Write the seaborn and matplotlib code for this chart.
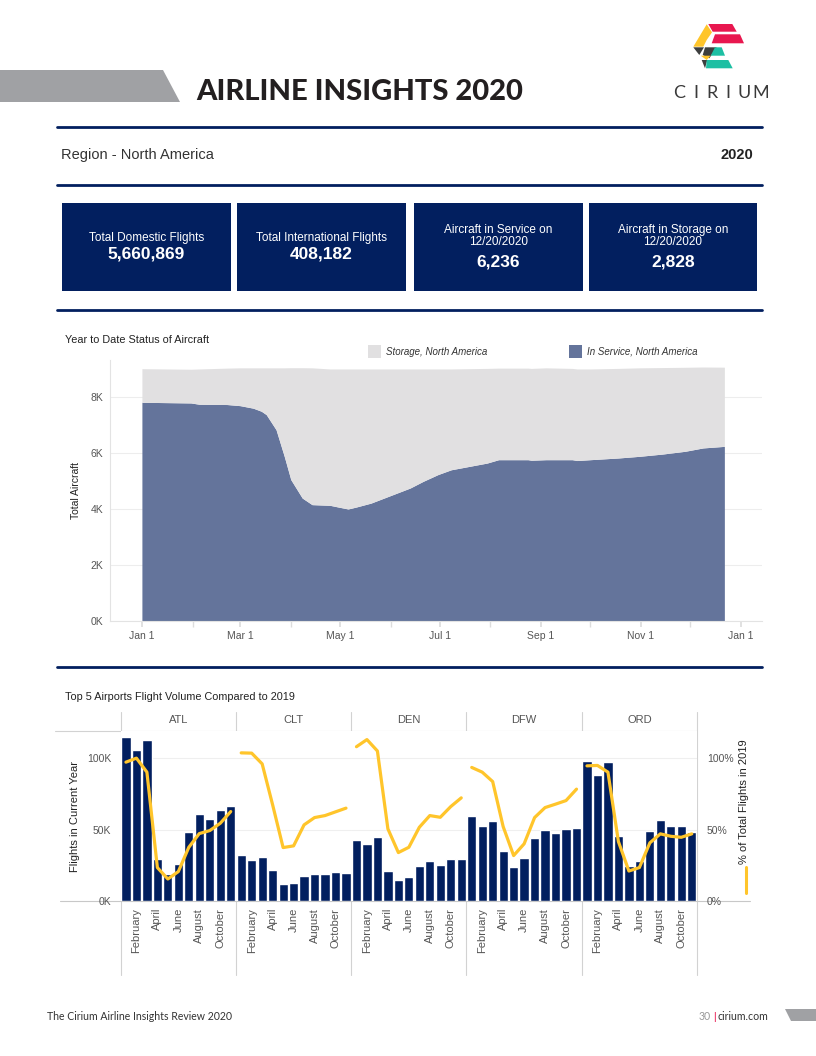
import numpy as np
import pandas as pd
import seaborn as sns
from matplotlib import pyplot as plt
from matplotlib.patches import Polygon, Rectangle

# ---- year to date status of aircraft, North America ----
status_dates = ["2020-01-01", "2020-01-31", "2020-02-05", "2020-02-22", "2020-03-01",
                "2020-03-09", "2020-03-14", "2020-03-17", "2020-03-23", "2020-03-28",
                "2020-04-01", "2020-04-08", "2020-04-14", "2020-04-25", "2020-04-30",
                "2020-05-06", "2020-05-11", "2020-05-20", "2020-05-28", "2020-06-05",
                "2020-06-13", "2020-06-21", "2020-06-30", "2020-07-08", "2020-07-19",
                "2020-07-30", "2020-08-06", "2020-08-24", "2020-08-26", "2020-09-04",
                "2020-09-20", "2020-09-23", "2020-10-01", "2020-10-18", "2020-10-31",
                "2020-11-14", "2020-11-28", "2020-12-09", "2020-12-22"]
in_service = [7810, 7786, 7740, 7730, 7690, 7600, 7490, 7370, 6830, 5880,
              5050, 4390, 4155, 4130, 4070, 4000, 4070, 4210, 4390, 4570,
              4750, 4990, 5230, 5400, 5520, 5640, 5760, 5760, 5740, 5760,
              5760, 5730, 5760, 5820, 5880, 5960, 6060, 6180, 6236]
storage = [1200, 1204, 1260, 1300, 1350, 1440, 1550, 1670, 2210, 3160,
           3995, 4655, 4885, 4870, 4930, 5000, 4930, 4790, 4610, 4430,
           4250, 4010, 3770, 3600, 3490, 3380, 3270, 3270, 3280, 3280,
           3260, 3270, 3240, 3200, 3160, 3090, 3000, 2890, 2828]

# ---- top 5 airports, flights per month (Jan-Nov) and % of 2019 ----
months = ["January", "February", "March", "April", "May", "June",
          "July", "August", "September", "October", "November"]
airports = ["ATL", "CLT", "DEN", "DFW", "ORD"]
flights_atl = [114500, 105800, 112900, 29400, 19200, 25900, 48600, 61200, 57500, 63800, 66800]
flights_clt = [32200, 29000, 30800, 21700, 11900, 12600, 17500, 18900, 18900, 20300, 19600]
flights_den = [42800, 40000, 44900, 21000, 14700, 16800, 24500, 28300, 25200, 29400, 29400]
flights_dfw = [59600, 52600, 56100, 35000, 23800, 30100, 44200, 49800, 47700, 50500, 51200]
flights_ord = [97700, 87900, 97400, 45600, 24500, 28000, 49300, 56800, 52600, 52600, 48400]
pct_atl = [0.972, 1.000, 0.902, 0.234, 0.154, 0.206, 0.376, 0.472, 0.493, 0.544, 0.626]
pct_clt = [1.037, 1.035, 0.960, 0.673, 0.374, 0.386, 0.533, 0.584, 0.598, 0.624, 0.650]
pct_den = [1.080, 1.130, 1.050, 0.505, 0.339, 0.376, 0.516, 0.598, 0.586, 0.661, 0.722]
pct_dfw = [0.935, 0.902, 0.836, 0.521, 0.318, 0.400, 0.584, 0.654, 0.678, 0.703, 0.783]
pct_ord = [0.946, 0.949, 0.902, 0.416, 0.210, 0.234, 0.407, 0.470, 0.453, 0.446, 0.470]

# ---- KPI tiles ----
kpi_labels = ["Total Domestic Flights", "Total International Flights",
              "Aircraft in Service on\n12/20/2020", "Aircraft in Storage on\n12/20/2020"]
kpi_values = ["5,660,869", "408,182", "6,236", "2,828"]

NAVY = "#021F5F"
GOLD = "#FFC52B"
SERVICE = "#64749B"
STORAGE = "#E1E0E1"
W, H = 816, 1056

sns.set_theme(style="white")
plt.rcParams["font.family"] = ["Liberation Sans", "DejaVu Sans"]


def box(x0, y0, x1, y1):
    # pixel box on the page -> figure fraction
    return [x0 / W, 1 - y1 / H, (x1 - x0) / W, (y1 - y0) / H]


fig = plt.figure(figsize=(W / 100, H / 100), dpi=100)
bg = fig.add_axes([0, 0, 1, 1])
bg.set_xlim(0, W)
bg.set_ylim(H, 0)
bg.axis("off")

# ---- page header ----
bg.add_patch(Polygon([(0, 70), (163, 70), (180, 102), (0, 102)], color="#A0A1A4", lw=0))
bg.text(196, 92, "AIRLINE INSIGHTS 2020", fontsize=21, fontweight="black",
        family=["Lato", "DejaVu Sans"], color="#231F20", va="center", ha="left")

logo = [
    ("#E8174F", [(708.3, 24), (732.3, 24), (736.7, 31.7), (712.7, 31.7)]),
    ("#FFC52B", [(706.7, 24.3), (712, 32.3), (706.7, 40), (703.3, 46.7), (693.3, 46.7)]),
    ("#E8174F", [(715, 34.3), (740, 34.3), (744, 43.3), (711.7, 43.3)]),
    ("#3D3F3E", [(693.3, 47.3), (704, 47.3), (699.3, 55)]),
    ("#3D3F3E", [(705, 47.3), (716.7, 47.3), (709.3, 58.3), (702.7, 55)]),
    ("#1DBFA3", [(715, 47.3), (721.7, 47.3), (725, 55.7), (710.7, 55.7)]),
    ("#FFC52B", [(700.7, 55.7), (710.7, 55.7), (706.7, 60)]),
    ("#3D3F3E", [(701.7, 60), (707.3, 60), (705, 68.3)]),
    ("#1DBFA3", [(706.7, 60), (728.3, 60), (732.7, 68.3), (706, 68.3)]),
]
for c, pts in logo:
    bg.add_patch(Polygon(pts, color=c, lw=0))
for ch, cx in zip("CIRIUM", [679, 696, 712, 728, 744, 761]):
    bg.text(cx, 93, ch, fontsize=13, fontweight="normal", family=["Lato", "DejaVu Sans"],
            color="#3A3A3A", ha="center", va="center")

for yy in [127, 185, 310, 667]:
    bg.plot([57, 762], [yy, yy], color=NAVY, lw=2)

bg.text(61, 155, "Region - North America", fontsize=10.5, color="#333333", va="center")
bg.text(753, 155, "2020", fontsize=10.5, fontweight="bold", color="#222222",
        va="center", ha="right")

# ---- KPI tiles ----
tiles = [(62, 231), (237, 406), (414, 583), (589, 757)]
for (x0, x1), lab, val in zip(tiles, kpi_labels, kpi_values):
    bg.add_patch(Rectangle((x0, 203), x1 - x0, 88, color=NAVY, lw=0))
    cx = (x0 + x1) / 2
    if "\n" in lab:
        bg.text(cx, 236, lab, fontsize=8.5, color="white", ha="center", va="center",
                linespacing=1.1)
        bg.text(cx, 262, val, fontsize=12.5, fontweight="bold", color="white",
                ha="center", va="center")
    else:
        bg.text(cx, 237.5, lab, fontsize=8.5, color="white", ha="center", va="center")
        bg.text(cx, 254, val, fontsize=12.5, fontweight="bold", color="white",
                ha="center", va="center")

# ---- chart 1: year to date status of aircraft ----
bg.text(65, 340, "Year to Date Status of Aircraft", fontsize=7.8, color="#222222", va="center")
bg.add_patch(Rectangle((368, 344.5), 13, 13, color=STORAGE, lw=0))
bg.text(386, 352, "Storage, North America", fontsize=7, style="italic", color="#333333",
        va="center")
bg.add_patch(Rectangle((569, 344.5), 13, 13, color=SERVICE, lw=0))
bg.text(587, 352, "In Service, North America", fontsize=7, style="italic", color="#333333",
        va="center")

ax1 = fig.add_axes(box(110, 360, 762, 621))
day = (pd.to_datetime(status_dates) - pd.Timestamp("2020-01-01")).days.values
top = np.add(in_service, storage)
ax1.fill_between(day, 0, in_service, color=SERVICE, lw=0, zorder=2)
ax1.fill_between(day, in_service, top, color=STORAGE, lw=0, zorder=2)
ax1.set_xlim(-19.5, 379)
ax1.set_ylim(0, 9320)
month_starts = (pd.date_range("2020-01-01", "2021-01-01", freq="MS")
                - pd.Timestamp("2020-01-01")).days.values
ax1.set_xticks(month_starts[::2])
ax1.set_xticklabels(["Jan 1", "Mar 1", "May 1", "Jul 1", "Sep 1", "Nov 1", "Jan 1"])
ax1.set_xticks(month_starts[1::2], minor=True)
ax1.tick_params(axis="x", which="both", length=4, color="#DDDDDD", labelsize=7.5,
                labelcolor="#555555", pad=3, bottom=True)
ax1.set_yticks([0, 2000, 4000, 6000, 8000])
ax1.set_yticklabels(["0K", "2K", "4K", "6K", "8K"])
ax1.tick_params(axis="y", length=0, labelsize=7.5, labelcolor="#555555", pad=5)
ax1.yaxis.grid(True, color="#EDEDED", lw=0.8)
ax1.set_axisbelow(True)
for s in ["top", "right"]:
    ax1.spines[s].set_visible(False)
for s in ["left", "bottom"]:
    ax1.spines[s].set_color("#E3E3E3")
    ax1.spines[s].set_linewidth(0.8)
ax1.set_ylabel("Total Aircraft", fontsize=7.5, color="#222222", labelpad=7)
ax1.patch.set_alpha(0)

# ---- chart 2: top 5 airports ----
bg.text(65, 697, "Top 5 Airports Flight Volume Compared to 2019", fontsize=7.8,
        color="#222222", va="center")
flights = [flights_atl, flights_clt, flights_den, flights_dfw, flights_ord]
pcts = [pct_atl, pct_clt, pct_den, pct_dfw, pct_ord]
df = pd.DataFrame({
    "airport": np.repeat(airports, len(months)),
    "month": months * len(airports),
    "flights": np.concatenate(flights),
    "pct": np.concatenate(pcts),
})

px0, pw = 120.7, 115.26
for i, ap in enumerate(airports):
    x0 = px0 + i * pw
    ax = fig.add_axes(box(x0, 731, x0 + pw, 901))
    sub = df[df["airport"] == ap]
    sns.barplot(data=sub, x="month", y="flights", order=months, color=NAVY,
                saturation=1, width=0.88, errorbar=None, ax=ax, zorder=2)
    ax.set_xlim(-0.5, 10.5)
    ax.set_ylim(0, 119000)
    ax.set_yticks([0, 50000, 100000])
    ax.yaxis.grid(True, color="#EFEFEF", lw=0.8)
    ax.set_axisbelow(True)
    ax.set_xticks(range(len(months)))
    ax.set_xticklabels([m if k % 2 == 1 else "" for k, m in enumerate(months)],
                       rotation=90, fontsize=8, color="#555555")
    ax.tick_params(axis="x", length=0, pad=5)
    ax.set_xlabel("")
    if i == 0:
        ax.set_yticklabels(["0K", "50K", "100K"], fontsize=7.5, color="#555555")
        ax.tick_params(axis="y", length=0, pad=7)
        ax.set_ylabel("Flights in Current Year", fontsize=8, color="#222222", labelpad=5)
    else:
        ax.set_yticklabels([])
        ax.tick_params(axis="y", length=0)
        ax.set_ylabel("")
    for s in ax.spines.values():
        s.set_visible(False)

    ax2 = ax.twinx()
    sns.lineplot(x=np.arange(len(months)), y=sub["pct"].values, color=GOLD, lw=2.3,
                 ax=ax2, zorder=3)
    ax2.set_ylim(0, 1.19)
    ax2.set_xlim(-0.5, 10.5)
    ax2.set_yticks([0, 0.5, 1.0])
    if i == len(airports) - 1:
        ax2.set_yticklabels(["0%", "50%", "100%"], fontsize=7.5, color="#555555")
        ax2.tick_params(axis="y", length=0, pad=7)
    else:
        ax2.set_yticklabels([])
        ax2.tick_params(axis="y", length=0)
    for s in ax2.spines.values():
        s.set_visible(False)
    ax2.set_ylabel("")

    bg.text(x0 + pw / 2, 720, ap, fontsize=8, color="#555555", ha="center", va="center")

for k in range(len(airports) + 1):
    xx = px0 + k * pw
    bg.plot([xx, xx], [712, 975], color="#D2D2D2", lw=0.8)
bg.plot([55, 697], [731, 731], color="#D2D2D2", lw=0.8)
bg.plot([60, 750], [901, 901], color="#C8C8C8", lw=0.8)

bg.text(744, 802, "% of Total Flights in 2019", fontsize=8, color="#222222",
        rotation=90, ha="center", va="center")
bg.plot([745.5, 745.5], [867, 893], color=GOLD, lw=2.2)

# ---- footer ----
bg.text(47, 1017, "The Cirium Airline Insights Review 2020", fontsize=7.6,
        family=["Lato", "DejaVu Sans"], color="#333333", va="center")
bg.text(768, 1017, "cirium.com", fontsize=7.6, family=["Lato", "DejaVu Sans"],
        color="#333333", va="center", ha="right")
bg.text(714, 1017, "|", fontsize=7.6, color="#E8174F", va="center", ha="center")
bg.text(711, 1017, "30", fontsize=7.6, family=["Lato", "DejaVu Sans"],
        color="#999999", va="center", ha="right")
bg.add_patch(Polygon([(785, 1009), (816, 1009), (816, 1021), (791, 1021)],
                     color="#A0A1A4", lw=0))

fig.savefig("out.png", dpi=100)
